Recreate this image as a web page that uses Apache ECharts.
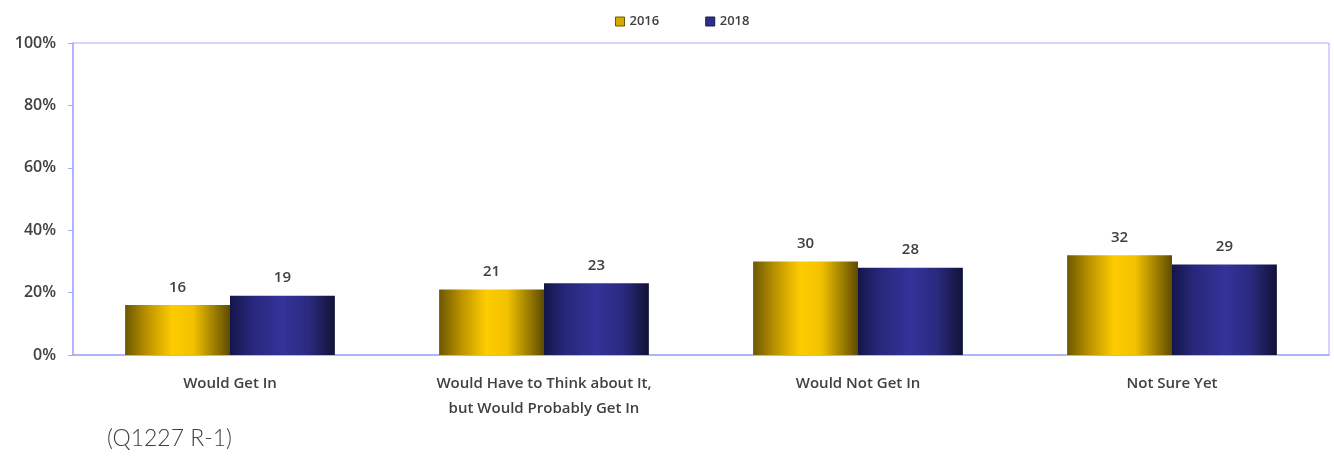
<!DOCTYPE html>
<html>
<head>
<meta charset="utf-8">
<script src="https://cdn.jsdelivr.net/npm/echarts@6/dist/echarts.min.js"></script>
<style>
  html, body { margin: 0; padding: 0; background: #ffffff; }
  #chart { width: 1334px; height: 457px; }
</style>
</head>
<body>
<div id="chart"></div>
<script>
// Responses by category, in percent
const categories = [
  'Would Get In',
  'Would Have to Think about It,\nbut Would Probably Get In',
  'Would Not Get In',
  'Not Sure Yet'
];
const values2016 = [16, 21, 30, 32];
const values2018 = [19, 23, 28, 29];
const seriesNames = ['2016', '2018'];
const yTicks = [0, 20, 40, 60, 80, 100];

const textColor = '#404040';
const frameColor = '#a8a8ff';
const fontStack = 'Open Sans, Liberation Sans, sans-serif';

function cylinder(stops) {
  return new echarts.graphic.LinearGradient(0, 0, 1, 0,
    stops.map(([offset, color]) => ({ offset, color })));
}

const chart = echarts.init(document.getElementById('chart'), null, { renderer: 'canvas' });

chart.setOption({
  animation: false,
  backgroundColor: '#ffffff',
  textStyle: { fontFamily: fontStack },
  legend: {
    top: 10,
    left: 610,
    icon: 'rect',
    itemWidth: 9,
    itemHeight: 9,
    itemGap: 46,
    textStyle: { color: textColor, fontSize: 13, fontWeight: 600 },
    data: [
      { name: seriesNames[0], itemStyle: { color: '#d4aa00', borderColor: '#6b5800', borderWidth: 1 } },
      { name: seriesNames[1], itemStyle: { color: '#2e2e8a', borderColor: '#1a1a4d', borderWidth: 1 } }
    ]
  },
  grid: {
    left: 73, right: 5, top: 43, bottom: 102,
    show: true,
    borderColor: frameColor,
    borderWidth: 1,
    backgroundColor: 'transparent'
  },
  xAxis: {
    type: 'category',
    data: categories,
    axisLine: { show: true, lineStyle: { color: frameColor, width: 1.5 } },
    axisTick: { show: false },
    axisLabel: {
      color: textColor,
      fontSize: 15,
      lineHeight: 25,
      margin: 16,
      fontWeight: 600
    }
  },
  yAxis: {
    type: 'value',
    min: yTicks[0],
    max: yTicks[yTicks.length - 1],
    interval: 20,
    splitLine: { show: false },
    axisLine: { show: true, lineStyle: { color: frameColor, width: 1.5 } },
    axisTick: { show: true, length: 5, lineStyle: { color: frameColor } },
    axisLabel: {
      color: textColor,
      fontSize: 16,
      fontWeight: 600,
      margin: 17,
      formatter: '{value}%'
    }
  },
  series: [
    {
      name: seriesNames[0],
      type: 'bar',
      data: values2016,
      barWidth: '33.4%',
      barGap: '0%',
      itemStyle: {
        color: cylinder([[0, '#6b5800'], [0.2, '#b89000'], [0.45, '#ffcc00'], [0.65, '#f2c200'], [1, '#5e4c00']])
      },
      label: {
        show: true, position: 'top', distance: 10,
        color: textColor, fontSize: 15, fontWeight: 600
      }
    },
    {
      name: seriesNames[1],
      type: 'bar',
      data: values2018,
      barWidth: '33.4%',
      barGap: '0%',
      itemStyle: {
        color: cylinder([[0, '#15154a'], [0.2, '#27277a'], [0.5, '#33339a'], [0.75, '#2a2a80'], [1, '#121236']])
      },
      label: {
        show: true, position: 'top', distance: 10,
        color: textColor, fontSize: 15, fontWeight: 600
      }
    }
  ],
  graphic: [
    {
      type: 'text',
      left: 107,
      top: 427,
      style: {
        text: '(Q1227 R-1)',
        fill: textColor,
        font: '300 23px Lato, Open Sans, sans-serif'
      }
    }
  ]
});
</script>
</body>
</html>
